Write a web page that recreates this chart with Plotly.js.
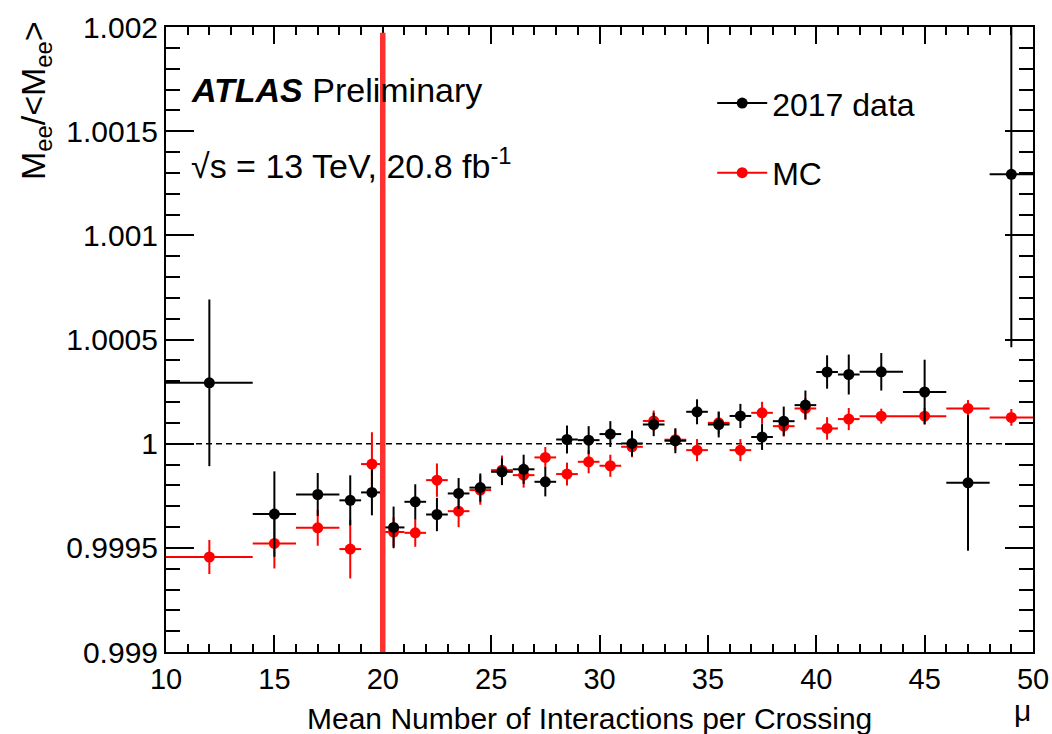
<!DOCTYPE html>
<html>
<head>
<meta charset="utf-8">
<script src="https://cdn.plot.ly/plotly-3.0.1.min.js"></script>
<style>
  html, body { margin: 0; padding: 0; background: #ffffff; }
  #plot { width: 1052px; height: 734px; }
</style>
</head>
<body>
<div id="plot"></div>
<script>
// Bin centres in <mu> and half-widths of each bin
const muCentres = [12, 15, 17, 18.5, 19.5,
  20.5, 21.5, 22.5, 23.5, 24.5, 25.5, 26.5, 27.5, 28.5, 29.5, 30.5,
  31.5, 32.5, 33.5, 34.5, 35.5, 36.5, 37.5, 38.5, 39.5, 40.5, 41.5,
  43, 45, 47, 49];
const muHalfWidths = [2, 1, 1, 0.5, 0.5,
  0.5, 0.5, 0.5, 0.5, 0.5, 0.5, 0.5, 0.5, 0.5, 0.5, 0.5,
  0.5, 0.5, 0.5, 0.5, 0.5, 0.5, 0.5, 0.5, 0.5, 0.5, 0.5,
  1, 1, 1, 1];

// M_ee / <M_ee> for 2017 data
const dataRatio = [1.000292, 0.999662, 0.999756, 0.999728, 0.999766,
  0.999598, 0.999721, 0.999660, 0.999761, 0.999789, 0.999865, 0.999877,
  0.999817, 1.000020, 1.000017, 1.000046, 1.000001, 1.000092, 1.000014,
  1.000153, 1.000092, 1.000133, 1.000032, 1.000108, 1.000185, 1.000344,
  1.000332, 1.000345, 1.000248, 0.999812, 1.001293];
const dataError = [0.00040, 0.000205, 0.000103, 0.00012, 0.00011,
  0.00010, 0.000084, 0.00008, 0.000074, 0.000068, 0.000064, 0.00007,
  0.00007, 0.000067, 0.000067, 0.000062, 0.000062, 0.000056, 0.00006,
  0.00006, 0.000062, 0.000058, 0.000062, 0.00007, 0.00007, 0.00008,
  0.000096, 0.00009, 0.000155, 0.000326, 0.00083];

// M_ee / <M_ee> for simulation
const mcRatio = [0.999456, 0.999521, 0.999596, 0.999494, 0.999902,
  0.999576, 0.999572, 0.999825, 0.999676, 0.999777, 0.999873, 0.999849,
  0.999934, 0.999854, 0.999913, 0.999894, 0.999985, 1.000109, 1.000019,
  0.999969, 1.000100, 0.999969, 1.000148, 1.000084, 1.000169, 1.000073,
  1.000118, 1.000132, 1.000132, 1.000169, 1.000126];
const mcError = [0.000082, 0.00012, 0.000086, 0.000141, 0.000153,
  0.00007, 0.000067, 0.00008, 0.000077, 0.00007, 0.00007, 0.00006,
  0.00005, 0.000055, 0.000055, 0.000053, 0.00005, 0.00005, 0.00005,
  0.000053, 0.000053, 0.000053, 0.000053, 0.00005, 0.00005, 0.000054,
  0.000053, 0.000036, 0.00004, 0.00004, 0.00004];

// Axis ticks
const xTickVals = [10, 15, 20, 25, 30, 35, 40, 45, 50];
const xTickText = ['10', '15', '20', '25', '30', '35', '40', '45', '50'];
const yTickVals = [0.999, 0.9995, 1, 1.0005, 1.001, 1.0015, 1.002];
const yTickText = ['0.999', '0.9995', '1', '1.0005', '1.001', '1.0015', '1.002'];

// Reference lines
const muCut = 20;
const unitRatio = 1;

const FONT = 'Liberation Sans, Arial, Helvetica, sans-serif';
const RED = '#ff0000';
const BLACK = '#000000';

function points(name, y, err, color) {
  return {
    type: 'scatter', mode: 'markers', name: name, showlegend: false,
    x: muCentres, y: y,
    marker: { color: color, size: 11, symbol: 'circle' },
    error_x: { type: 'data', array: muHalfWidths, symmetric: true, color: color, thickness: 2, width: 0 },
    error_y: { type: 'data', array: err, symmetric: true, color: color, thickness: 2, width: 0 },
    cliponaxis: true
  };
}

function legendEntry(name, color) {
  return {
    type: 'scatter', mode: 'lines+markers', name: name,
    x: [null], y: [null], legendgroup: name,
    line: { color: color, width: 2 },
    marker: { color: color, size: 11 }
  };
}

const traces = [
  legendEntry('2017 data', BLACK),
  legendEntry('MC', RED),
  points('MC', mcRatio, mcError, RED),
  points('2017 data', dataRatio, dataError, BLACK)
];

const axisCommon = {
  showgrid: false, zeroline: false,
  showline: true, linecolor: BLACK, linewidth: 2,
  mirror: 'allticks', ticks: 'inside', tickcolor: BLACK, tickwidth: 2,
  tickmode: 'array'
};

const layout = {
  width: 1052, height: 734,
  margin: { l: 166, r: 19, t: 27, b: 82, pad: 0 },
  paper_bgcolor: '#ffffff', plot_bgcolor: '#ffffff',
  font: { family: FONT, color: BLACK },
  xaxis: Object.assign({}, axisCommon, {
    range: [10, 50], tickvals: xTickVals, ticktext: xTickText,
    ticklen: 17,
    tickfont: { family: FONT, size: 29, color: BLACK },
    minor: { ticks: 'inside', tickmode: 'linear', tick0: 10, dtick: 1, ticklen: 8, tickwidth: 2, tickcolor: BLACK, showgrid: false }
  }),
  yaxis: Object.assign({}, axisCommon, {
    range: [0.999, 1.002], tickvals: yTickVals, ticktext: yTickText,
    ticklen: 28,
    tickfont: { family: FONT, size: 30, color: BLACK },
    minor: { ticks: 'inside', tickmode: 'linear', tick0: 0.999, dtick: 0.0001, ticklen: 14, tickwidth: 2, tickcolor: BLACK, showgrid: false }
  }),
  showlegend: true,
  legend: {
    x: 0.63, xanchor: 'left', y: 0.922, yanchor: 'top',
    bgcolor: 'rgba(0,0,0,0)', borderwidth: 0,
    font: { family: FONT, size: 32, color: BLACK },
    tracegroupgap: 25, itemwidth: 50
  },
  shapes: [
    { type: 'line', xref: 'x', yref: 'y', x0: 10, x1: 50, y0: unitRatio, y1: unitRatio,
      line: { color: BLACK, width: 1.5, dash: '6px,4px' }, layer: 'below' },
    { type: 'line', xref: 'x', yref: 'paper', x0: muCut, x1: muCut, y0: 0, y1: 0.991,
      line: { color: '#ff3030', width: 5.5 }, layer: 'above' }
  ],
  annotations: [
    { xref: 'paper', yref: 'paper', x: 0.026, y: 0.899, xanchor: 'left', yanchor: 'middle', showarrow: false,
      text: '<b><i>ATLAS</i></b> Preliminary', font: { family: FONT, size: 34, color: BLACK } },
    { xref: 'paper', yref: 'paper', x: 0.026, y: 0.782, xanchor: 'left', yanchor: 'middle', showarrow: false,
      text: '√s = 13 TeV, 20.8 fb<sup>-1</sup>', font: { family: FONT, size: 34, color: BLACK } },
    { xref: 'paper', yref: 'paper', x: -0.151, y: 1.012, xanchor: 'center', yanchor: 'top', showarrow: false,
      textangle: -90, text: 'M<sub>ee</sub>/&lt;M<sub>ee</sub>&gt;', font: { family: FONT, size: 34, color: BLACK } },
    { xref: 'paper', yref: 'paper', x: 0.489, y: -0.106, xanchor: 'center', yanchor: 'middle', showarrow: false,
      text: 'Mean Number of Interactions per Crossing', font: { family: FONT, size: 30, color: BLACK } },
    { xref: 'paper', yref: 'paper', x: 0.988, y: -0.093, xanchor: 'center', yanchor: 'middle', showarrow: false,
      text: 'μ', font: { family: FONT, size: 30, color: BLACK } }
  ]
};

Plotly.newPlot('plot', traces, layout, { displayModeBar: false, staticPlot: true });
</script>
</body>
</html>
